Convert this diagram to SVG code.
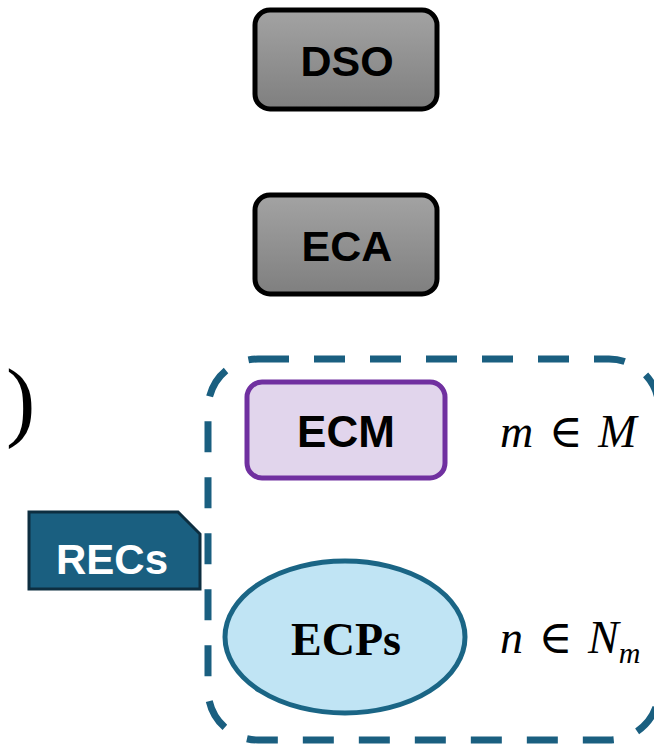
<svg xmlns="http://www.w3.org/2000/svg" width="654" height="749" viewBox="0 0 654 749">
<style>
.gray{stroke:#000;stroke-width:5;fill:url(#g)}
.lbl{font-family:"Liberation Sans",Arial,sans-serif;font-weight:bold;text-anchor:middle}
.math{font-family:"Liberation Serif","DejaVu Serif",serif;font-style:italic;font-size:46px}
</style>
<defs>
<linearGradient id="g" x1="0" y1="0" x2="0" y2="1">
<stop offset="0" stop-color="#a3a3a3"/>
<stop offset="1" stop-color="#7f7f7f"/>
</linearGradient>
</defs>
<rect width="654" height="749" fill="#fff"/>
<g id="group-recs">
<rect x="208" y="359" width="451" height="381" rx="50" fill="none" stroke="#1a5f80" stroke-width="7" stroke-dasharray="31 25"/>
</g>
<g id="dso">
<rect class="gray" x="255" y="10" width="182" height="99" rx="15"/>
<text class="lbl" x="347" y="76" font-size="43">DSO</text>
</g>
<g id="eca">
<rect class="gray" x="255" y="195" width="182" height="99" rx="15"/>
<text class="lbl" x="347" y="261" font-size="43">ECA</text>
</g>
<g id="ecm">
<rect x="247" y="382" width="198" height="96" rx="15" fill="#e1d5ec" stroke="#7030a0" stroke-width="5"/>
<text class="lbl" x="346" y="447" font-size="44">ECM</text>
</g>
<g id="ecps">
<ellipse cx="345" cy="637" rx="120" ry="76" fill="#c0e4f4" stroke="#1a6585" stroke-width="5"/>
<text x="346" y="655" font-family="'Liberation Serif','Times New Roman',serif" font-weight="bold" font-size="46" text-anchor="middle">ECPs</text>
</g>
<g id="recs">
<path d="M29,512 H178 L200,534 V589 H29 Z" fill="#1a5f80" stroke="#0d2e40" stroke-width="3"/>
<text class="lbl" x="112" y="574" font-size="42" fill="#fff">RECs</text>
</g>
<g id="labels">
<text class="math" x="500" y="447" word-spacing="4">m ∈ M</text>
<text class="math" x="500" y="653" word-spacing="4">n ∈ N<tspan font-size="30" dy="10">m</tspan></text>
<text x="6" y="430" font-family="'Liberation Serif',serif" font-size="88">)</text>
</g>
<g id="connectors"></g>
</svg>
